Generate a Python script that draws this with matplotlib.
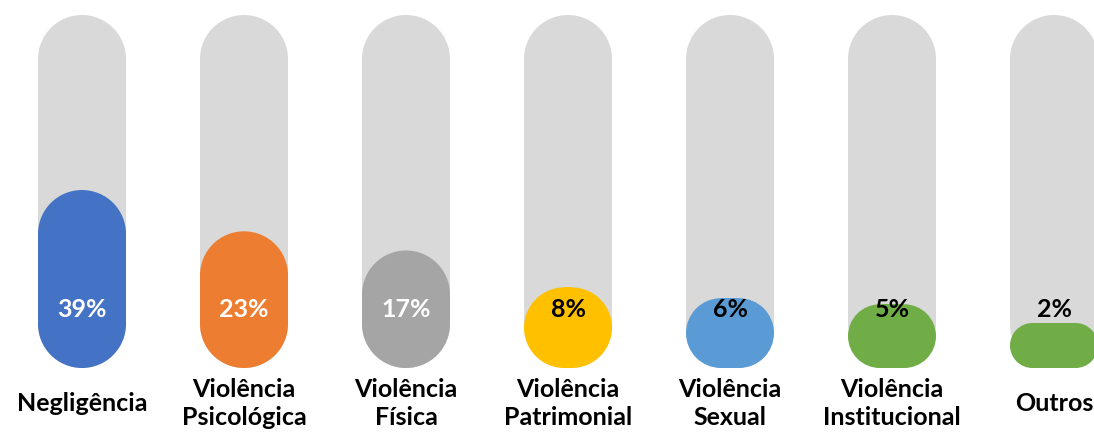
import numpy as np
import matplotlib
matplotlib.use("Agg")
import matplotlib.pyplot as plt
from matplotlib.patches import Circle, Rectangle

# dados do gráfico
categorias = ["Negligência", "Violência\nPsicológica", "Violência\nFísica",
              "Violência\nPatrimonial", "Violência\nSexual",
              "Violência\nInstitucional", "Outros"]
valores = [39, 23, 17, 8, 6, 5, 2]
cores = ["#4472C4", "#ED7D31", "#A5A5A5", "#FFC000", "#5B9BD5", "#70AD47", "#70AD47"]
cor_texto = ["white", "white", "white", "black", "black", "black", "black"]

plt.rcParams['font.family'] = ['Lato', 'DejaVu Sans']


def capsula(ax, x, y0, w, h, cor):
    # retângulo + dois círculos = cápsula arredondada
    if h >= w:
        r = w / 2
        ax.add_patch(Rectangle((x - r, y0 + r), w, h - 2 * r, fc=cor, ec='none'))
        ax.add_patch(Circle((x, y0 + r), r, fc=cor, ec='none'))
        ax.add_patch(Circle((x, y0 + h - r), r, fc=cor, ec='none'))
    else:
        r = h / 2
        ax.add_patch(Rectangle((x - w / 2 + r, y0), w - 2 * r, h, fc=cor, ec='none'))
        ax.add_patch(Circle((x - w / 2 + r, y0 + r), r, fc=cor, ec='none'))
        ax.add_patch(Circle((x + w / 2 - r, y0 + r), r, fc=cor, ec='none'))


fig = plt.figure(figsize=(10.94, 4.32), dpi=100)
ax = fig.add_axes([0, 0, 1, 1])
ax.set_xlim(0, 1094)
ax.set_ylim(432, 0)  # coordenadas em pixels
ax.axis('off')

largura = 88
base = 368
topo = 15
x_centros = 82 + 162 * np.arange(len(valores))

# escala raiz quadrada para a altura preenchida
escala = (base - 190) / np.sqrt(max(valores))
alturas = np.maximum(escala * np.sqrt(valores), 45)

for x, v, h, c, tc, cat in zip(x_centros, valores, alturas, cores, cor_texto, categorias):
    capsula(ax, x, topo, largura, base - topo, "#D9D9D9")
    capsula(ax, x, base - h, largura, h, c)
    ax.text(x, 317, f"{v}%", ha='center', va='baseline', color=tc,
            fontsize=18, fontweight='bold')
    linhas = cat.split("\n")
    ys = [411] if len(linhas) == 1 else [397, 425]
    for y, t in zip(ys, linhas):
        ax.text(x, y, t, ha='center', va='baseline', color='black',
                fontsize=18, fontweight='bold')

fig.savefig("out.png", dpi=100)
